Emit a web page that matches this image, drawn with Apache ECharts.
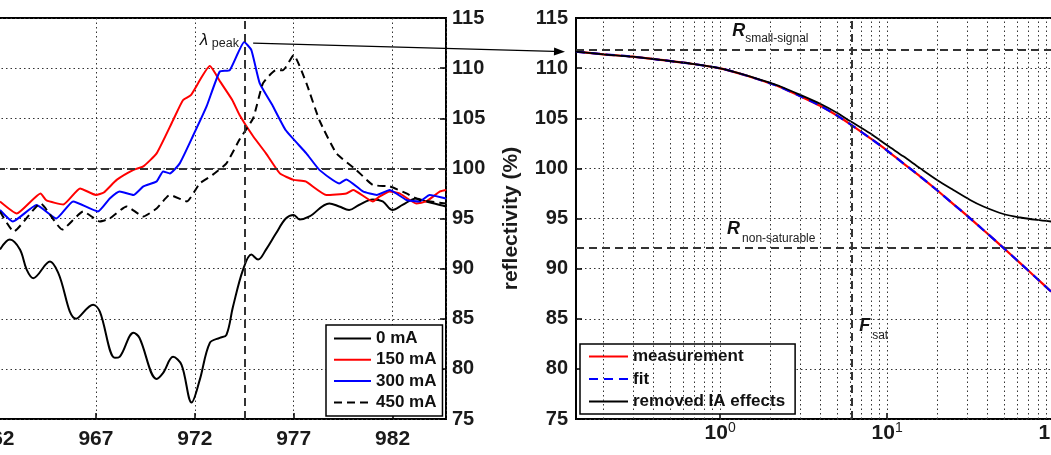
<!DOCTYPE html>
<html><head><meta charset="utf-8">
<script src="https://cdn.jsdelivr.net/npm/echarts@6.0.0/dist/echarts.min.js"></script>
<style>html,body{margin:0;padding:0;background:#fff}#c{width:1051px;height:455px}</style>
</head><body><div id="c"></div>
<script>
const FONT = 'Liberation Sans, Arial, Helvetica, sans-serif';

// ---------- left chart: reflectivity spectra ----------
const wl0 = [962.15,962.65,963.16,963.5,963.83,964.68,965.1,966.0,966.86,967.2,967.96,968.2,968.9,969.2,970.07,970.4,970.9,971.33,971.84,972.25,972.76,973.26,973.6,973.93,974.44,974.86,975.2,975.6,976.1,976.6,977.0,977.3,977.8,978.8,979.3,979.8,980.3,981.0,981.5,982.0,982.5,983.2,983.7,984.4,984.7];
const r0 = [91.9,92.9,91.9,89.9,89.05,90.7,89.55,85.0,86.4,85.7,81.1,81.2,83.6,83.1,79.0,79.6,81.2,80.4,76.65,78.9,82.6,83.1,83.4,86.2,89.9,91.4,90.9,91.9,93.5,95.0,95.35,94.9,95.2,96.5,96.2,95.85,96.35,96.9,96.7,95.85,96.35,97.0,96.7,96.35,96.2];

const wl150 = [962.15,963.0,964.2,964.5,965.35,966.2,967.0,967.4,968.05,968.9,969.4,970.07,970.9,971.4,971.8,972.76,973.3,973.9,974.27,974.95,975.6,976.3,977.0,977.6,978.65,979.66,980.0,981.0,981.35,981.85,982.35,983.2,983.7,984.4,984.7];
const r150 = [96.7,95.5,97.5,96.8,96.4,98.0,97.35,97.6,98.85,99.85,100.2,101.5,104.8,106.8,107.3,110.2,108.6,106.8,105.3,103.2,101.5,99.5,98.85,98.7,97.35,97.5,97.85,96.7,97.2,97.7,97.5,96.5,96.7,97.7,97.85];

const wl300 = [962.15,962.8,964.0,965.0,965.85,967.1,967.7,968.2,968.9,969.4,970.07,970.4,970.74,971.24,971.9,972.6,973.26,973.77,974.5,974.86,975.28,975.95,976.6,977.64,978.3,979.3,979.66,980.5,981.2,981.85,982.7,983.36,983.87,984.7];
const r300 = [95.85,94.7,96.35,95.0,96.7,95.7,97.0,97.7,97.35,98.2,98.7,99.7,99.5,100.5,103.2,106.2,109.65,109.8,112.6,111.8,108.5,106.2,103.8,101.5,99.85,98.5,98.9,97.7,97.35,97.85,96.85,96.7,97.35,97.0];

const wl450 = [962.15,962.85,964.2,965.3,966.36,967.2,967.7,968.55,969.4,970.07,970.74,971.6,972.25,972.9,973.6,974.27,974.95,975.45,976.1,976.46,977.0,977.64,978.3,979.16,980.16,981.0,981.85,982.7,983.36,984.7];
const r450 = [95.7,93.7,96.5,93.9,95.7,94.7,95.0,96.2,95.2,96.0,97.35,96.7,98.5,99.35,100.5,102.9,105.0,108.5,109.8,109.8,111.3,108.5,104.8,101.5,99.85,98.35,98.2,97.5,96.85,96.5];

const currentNames = ['0 mA', '150 mA', '300 mA', '450 mA'];
const lambdaPeak = 974.53;
const refLevel = 100;

// ---------- right chart: reflectivity vs fluence ----------
const fluence = [0.137,0.2,0.3,0.44,0.66,1.0,1.45,2.0,2.3,3.0,4.0,5.0,6.0,7.9,10,12.5,15.8,19.9,24.9,31.4,37.7,49.7,62.6,78.8,96];
const measurement = [111.64,111.38,111.14,110.82,110.46,109.98,109.24,108.47,108.1,107.22,106.22,105.27,104.42,103.02,101.78,100.5,99.18,97.82,96.44,95.02,93.85,92.07,90.55,89.02,87.7];
const fit = [111.64,111.38,111.14,110.82,110.46,109.98,109.24,108.47,108.1,107.22,106.22,105.27,104.42,103.02,101.78,100.5,99.18,97.82,96.44,95.02,93.85,92.07,90.55,89.02,87.7];
const removedIA = [111.64,111.38,111.14,110.82,110.46,109.98,109.26,108.52,108.17,107.35,106.42,105.55,104.72,103.5,102.3,101.2,100.0,98.85,97.85,96.85,96.2,95.45,95.1,94.86,94.7];
const fitNames = ['measurement', 'fit', 'removed IA effects'];
const rSmallSignal = 111.8;
const rNonSaturable = 92.1;
const fSat = 6.15;
const fluenceGrid = [0.2,0.3,0.4,0.5,0.6,0.7,0.8,0.9,1,2,3,4,5,6,7,8,9,10,20,30,40,50,60,70,80,90,100,200];
const fluenceLabels = [1, 10, 100];

const yMin = 75, yMax = 115, yStep = 5;

function zip(xs, ys) { return xs.map((x, i) => [x, ys[i]]); }

const dotted = {color: '#333', width: 1, type: [1.5, 3]};
const dashed = {color: '#333', width: 2, type: [8, 5]};
const tickLabel = {fontSize: 20, fontWeight: 'bold', color: '#1a1a1a', fontFamily: FONT};

const chart = echarts.init(document.getElementById('c'));

const option = {
  animation: false,
  backgroundColor: '#fff',
  textStyle: {fontFamily: FONT},
  grid: [
    {left: -3, top: 18, width: 449, height: 401, show: true, borderColor: '#000', borderWidth: 2, backgroundColor: 'transparent', containLabel: false, outerBoundsMode: 'none'},
    {left: 576, top: 18, width: 528.4, height: 401, show: true, borderColor: '#000', borderWidth: 2, backgroundColor: 'transparent', containLabel: false, outerBoundsMode: 'none'}
  ],
  xAxis: [
    {type: 'value', gridIndex: 0, min: 962, max: 984.7, interval: 5,
     axisLine: {show: false},
     axisTick: {show: true, inside: true, length: 6, lineStyle: {color: '#000', width: 1.5}},
     axisLabel: Object.assign({showMaxLabel: false, margin: 10}, tickLabel, {fontSize: 21}),
     splitLine: {show: true, lineStyle: dotted}},
    {type: 'log', gridIndex: 1, logBase: 10, min: 0.137, max: 200,
     axisLine: {show: false},
     axisTick: {show: true, inside: true, length: 6, customValues: fluenceLabels, lineStyle: {color: '#000', width: 1.5}},
     axisLabel: {customValues: fluenceLabels, margin: 2,
       formatter: v => '{b|10}{s|' + Math.round(Math.log10(v)) + '}',
       rich: {
         b: {fontSize: 21, fontWeight: 'bold', color: '#1a1a1a', fontFamily: FONT, lineHeight: 20, padding: [5, 0, 0, 0]},
         s: {fontSize: 14, fontWeight: 'normal', color: '#1a1a1a', fontFamily: FONT, lineHeight: 10, verticalAlign: 'top'}
       }},
     splitLine: {show: false}}
  ],
  yAxis: [
    {type: 'value', gridIndex: 0, position: 'right', min: yMin, max: yMax, interval: yStep,
     axisLine: {show: false},
     axisTick: {show: true, inside: true, length: 6, lineStyle: {color: '#000', width: 1.5}},
     axisLabel: Object.assign({margin: 6}, tickLabel),
     splitLine: {show: true, lineStyle: dotted}},
    {type: 'value', gridIndex: 1, position: 'left', min: yMin, max: yMax, interval: yStep,
     name: 'reflectivity (%)', nameLocation: 'middle', nameGap: 54, nameRotate: 90,
     nameTextStyle: {fontSize: 21, fontWeight: 'bold', color: '#1a1a1a', fontFamily: FONT},
     axisLine: {show: false},
     axisTick: {show: true, inside: true, length: 6, lineStyle: {color: '#000', width: 1.5}},
     axisLabel: Object.assign({margin: 8}, tickLabel),
     splitLine: {show: true, lineStyle: dotted}}
  ],
  legend: [
    {data: currentNames, orient: 'vertical', left: 326, top: 325, itemWidth: 37, itemHeight: 16, itemGap: 4.3,
     padding: [5, 6, 5, 7], backgroundColor: '#fff', borderColor: '#000', borderWidth: 1.5, borderRadius: 0,
     itemStyle: {opacity: 0},
     selectedMode: false, textStyle: {fontSize: 17, fontWeight: 'bold', color: '#111', fontFamily: FONT}},
    {data: fitNames, orient: 'vertical', left: 580, top: 344, itemWidth: 39, itemHeight: 16, itemGap: 5.5,
     padding: [4, 10, 4, 8], backgroundColor: '#fff', borderColor: '#000', borderWidth: 1.5, borderRadius: 0,
     itemStyle: {opacity: 0},
     selectedMode: false, textStyle: {fontSize: 17, fontWeight: 'bold', color: '#111', fontFamily: FONT}}
  ],
  series: [
    {name: '_annLeft', type: 'line', xAxisIndex: 0, yAxisIndex: 0, data: [], silent: true,
     markLine: {silent: true, symbol: ['none', 'none'], label: {show: false}, lineStyle: dashed,
       data: [{yAxis: refLevel}, {xAxis: lambdaPeak}]}},
    {name: '0 mA', type: 'line', xAxisIndex: 0, yAxisIndex: 0, data: zip(wl0, r0), symbol: 'none', smooth: 0.35,
     lineStyle: {color: '#000', width: 2}, itemStyle: {color: '#000'}},
    {name: '150 mA', type: 'line', xAxisIndex: 0, yAxisIndex: 0, data: zip(wl150, r150), symbol: 'none', smooth: 0.15,
     lineStyle: {color: '#ff0000', width: 2}, itemStyle: {color: '#ff0000'}},
    {name: '300 mA', type: 'line', xAxisIndex: 0, yAxisIndex: 0, data: zip(wl300, r300), symbol: 'none', smooth: 0.15,
     lineStyle: {color: '#0000ff', width: 2}, itemStyle: {color: '#0000ff'}},
    {name: '450 mA', type: 'line', xAxisIndex: 0, yAxisIndex: 0, data: zip(wl450, r450), symbol: 'none', smooth: 0.15,
     lineStyle: {color: '#000', width: 2, type: [8, 5]}, itemStyle: {color: '#000'}},

    {name: '_gridRight', type: 'line', xAxisIndex: 1, yAxisIndex: 1, data: [], silent: true,
     markLine: {silent: true, symbol: ['none', 'none'], label: {show: false}, lineStyle: dotted,
       data: fluenceGrid.map(v => ({xAxis: v}))}},
    {name: '_annRight', type: 'line', xAxisIndex: 1, yAxisIndex: 1, data: [], silent: true,
     markLine: {silent: true, symbol: ['none', 'none'], label: {show: false}, lineStyle: dashed,
       data: [{yAxis: rSmallSignal}, {yAxis: rNonSaturable}, {xAxis: fSat}]}},
    {name: 'measurement', type: 'line', xAxisIndex: 1, yAxisIndex: 1, data: zip(fluence, measurement), symbol: 'none', smooth: 0.3,
     lineStyle: {color: '#ff0000', width: 2.2}, itemStyle: {color: '#ff0000'}},
    {name: 'fit', type: 'line', xAxisIndex: 1, yAxisIndex: 1, data: zip(fluence, fit), symbol: 'none', smooth: 0.3,
     lineStyle: {color: '#0000ff', width: 2.2, type: [9, 6]}, itemStyle: {color: '#0000ff'}},
    {name: 'removed IA effects', type: 'line', xAxisIndex: 1, yAxisIndex: 1, data: zip(fluence, removedIA), symbol: 'none', smooth: 0.3,
     lineStyle: {color: '#000', width: 1.8}, itemStyle: {color: '#000'}}
  ]
};
chart.setOption(option);

// ---------- annotations placed through the axes' own scales ----------
function px(g, pt) { return chart.convertToPixel({gridIndex: g}, pt); }
function label(anchor, main, sub, mainStyle, subStyle, dxSub, dySub, dxMain, dyMain) {
  return {type: 'group', x: anchor[0], y: anchor[1], z: 50, children: [
    {type: 'text', x: dxMain || 0, y: dyMain || 0, style: Object.assign({text: main, fill: '#111', fontFamily: FONT, verticalAlign: 'middle', align: 'left'}, mainStyle)},
    {type: 'text', x: dxSub, y: dySub, style: Object.assign({text: sub, fill: '#222', fontFamily: FONT, verticalAlign: 'middle', align: 'left', fontSize: 12}, subStyle)}
  ]};
}
const lam = px(0, [lambdaPeak, 112.6]);
const aStart = px(0, [974.95, 112.5]);
const aRef = px(1, [fluence[0], measurement[0]]);
const tip = [aRef[0] - 11, aRef[1]];
const dx = tip[0] - aStart[0], dy = tip[1] - aStart[1];
const L = Math.sqrt(dx * dx + dy * dy), ux = dx / L, uy = dy / L;
const head = 11, hw = 4;
const base = [tip[0] - ux * head, tip[1] - uy * head];

const RsPos = px(1, [1.18, 113.7]);
const RnPos = px(1, [1.10, 93.96]);
const FsPos = px(1, [6.80, 84.24]);

chart.setOption({
  graphic: [
    {type: 'line', z: 50, shape: {x1: aStart[0], y1: aStart[1], x2: base[0], y2: base[1]}, style: {stroke: '#000', lineWidth: 1.3}},
    {type: 'polygon', z: 50, shape: {points: [tip, [base[0] - uy * hw, base[1] + ux * hw], [base[0] + uy * hw, base[1] - ux * hw]]}, style: {fill: '#000'}},
    label(lam, 'λ', 'peak', {fontSize: 17, fontStyle: 'italic'}, {fontSize: 12.5}, -33, 1.5, -45, -2),
    label(RsPos, 'R', 'small-signal', {fontSize: 18, fontStyle: 'italic', fontWeight: 'bold'}, {}, 13, 8),
    label(RnPos, 'R', 'non-saturable', {fontSize: 18, fontStyle: 'italic', fontWeight: 'bold'}, {}, 15, 9.5),
    label(FsPos, 'F', 'sat', {fontSize: 18, fontStyle: 'italic', fontWeight: 'bold'}, {}, 13, 9.5)
  ]
});
</script>
</body></html>
